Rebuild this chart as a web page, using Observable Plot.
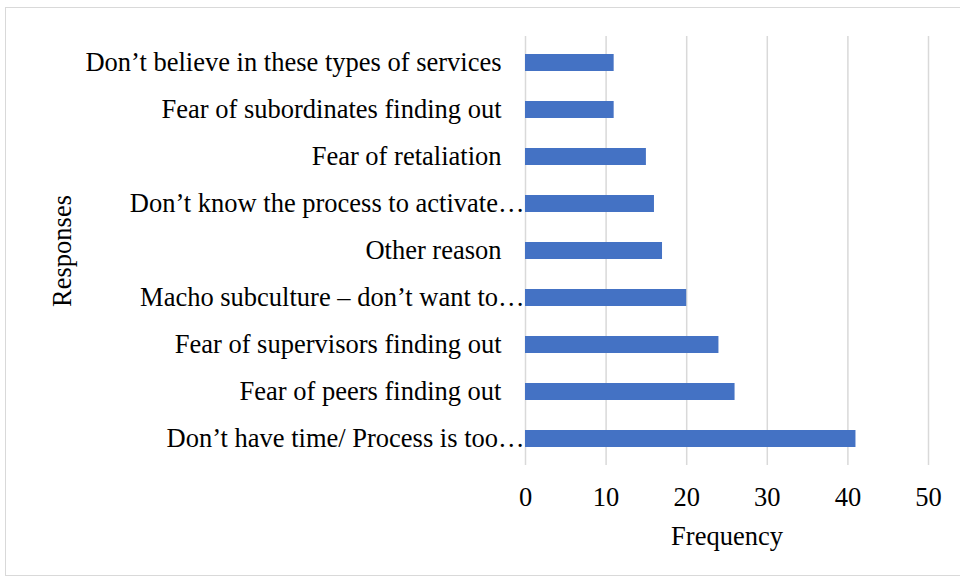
<!DOCTYPE html>
<html>
<head>
<meta charset="utf-8">
<script src="https://cdn.jsdelivr.net/npm/d3@7"></script>
<script src="https://cdn.jsdelivr.net/npm/@observablehq/plot@0.6"></script>
<style>
  body { margin: 0; background: #fff; }
  #wrap { position: relative; width: 960px; height: 580px; overflow: hidden; }
  #border { position: absolute; left: 5px; top: 7px; width: 980px; height: 569px; border: 1px solid #d9d9d9; box-sizing: border-box; }
  #chart { position: absolute; left: 0; top: 0; }
</style>
</head>
<body>
<div id="wrap"><div id="border"></div><div id="chart"></div></div>
<script>
const responses = [
  "Don’t believe in these types of services",
  "Fear of subordinates finding out",
  "Fear of retaliation",
  "Don’t know the process to activate…",
  "Other reason",
  "Macho subculture – don’t want to…",
  "Fear of supervisors finding out",
  "Fear of peers finding out",
  "Don’t have time/ Process is too…"
];
const frequency = [11, 11, 15, 16, 17, 20, 24, 26, 41];
const xTicks = [0, 10, 20, 30, 40, 50];

const data = responses.map((r, i) => ({response: r, value: frequency[i]}));
const font = "'Liberation Serif', 'Times New Roman', serif";
const fs = 26.5;

const chart = Plot.plot({
  width: 960,
  height: 580,
  marginLeft: 525,
  marginRight: 32,
  marginTop: 36,
  marginBottom: 115,
  style: {fontFamily: font, fontSize: fs + "px", color: "#000", background: "transparent"},
  x: {domain: [0, 50]},
  y: {domain: responses, paddingInner: 0.63, paddingOuter: 0.315},
  marks: [
    Plot.ruleX(xTicks, {stroke: "#d9d9d9", strokeWidth: 1.5}),
    Plot.barX(data, {x: "value", y: "response", fill: "#4472C4"}),
    Plot.axisX({ticks: xTicks, tickSize: 0, tickPadding: 22, tickFormat: d => d, label: null, fontSize: fs}),
    Plot.axisY({tickSize: 0, ticks: [], label: null}),
    Plot.text(data.filter(d => !d.response.endsWith("…")), {x: 0, y: "response", text: "response", textAnchor: "end", dx: -24, fontSize: fs}),
    Plot.text(data.filter(d => d.response.endsWith("…")), {x: 0, y: "response", text: "response", textAnchor: "end", dx: -1, fontSize: fs}),
    Plot.text(["Frequency"], {frameAnchor: "bottom", lineAnchor: "middle", textAnchor: "middle", dy: 71, fontSize: fs}),
    Plot.text(["Responses"], {frameAnchor: "left", lineAnchor: "middle", textAnchor: "middle", dx: -463, rotate: -90, fontSize: fs})
  ]
});
document.getElementById("chart").appendChild(chart);
</script>
</body>
</html>
